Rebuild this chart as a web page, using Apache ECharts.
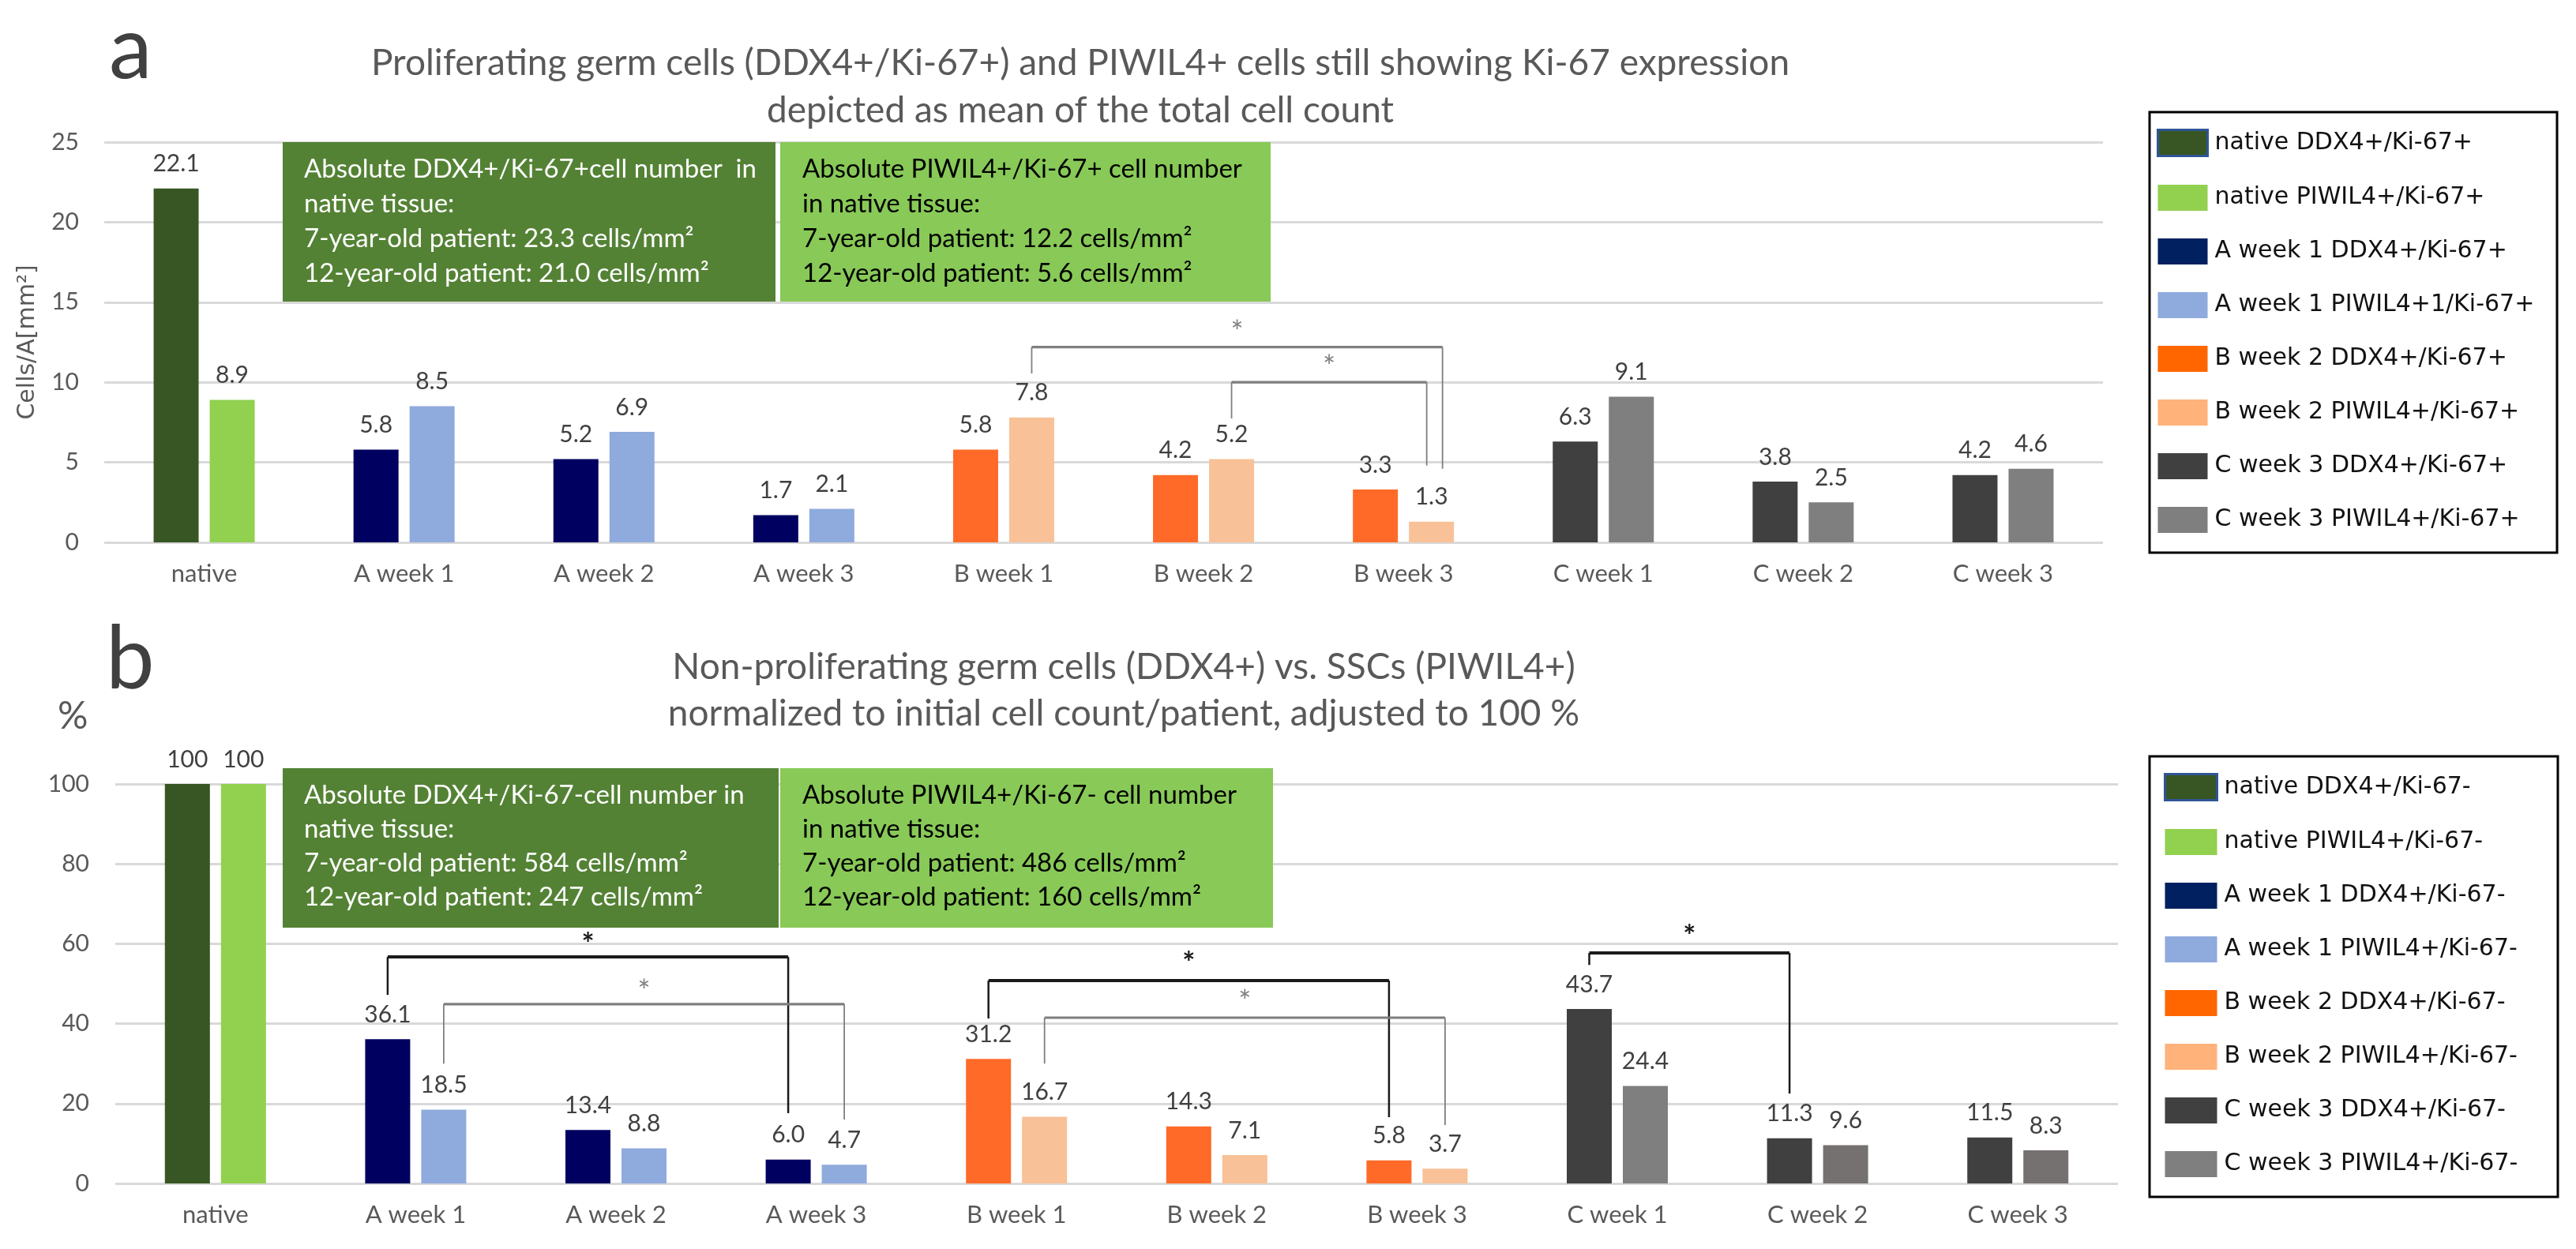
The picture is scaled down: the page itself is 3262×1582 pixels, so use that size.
<!DOCTYPE html>
<html>
<head>
<meta charset="utf-8">
<script src="https://cdn.jsdelivr.net/npm/echarts@6/dist/echarts.min.js"></script>
<style>
html,body{margin:0;padding:0;background:#fff;}
#main{width:3262px;height:1582px;}
</style>
</head>
<body>
<div id="main"></div>
<script>
// ---------------- DATA ----------------
const categories = ['native', 'A week 1', 'A week 2', 'A week 3', 'B week 1', 'B week 2', 'B week 3', 'C week 1', 'C week 2', 'C week 3'];
const groupOfCategory = [0, 1, 1, 1, 2, 2, 2, 3, 3, 3];

// panel a: proliferating cells (cells / mm²)
const prolifDDX4   = [22.1, 5.8, 5.2, 1.7, 5.8, 4.2, 3.3, 6.3, 3.8, 4.2];
const prolifPIWIL4 = [8.9, 8.5, 6.9, 2.1, 7.8, 5.2, 1.3, 9.1, 2.5, 4.6];
// panel b: non-proliferating cells (% of native)
const nonProlifDDX4   = [100, 36.1, 13.4, 6.0, 31.2, 14.3, 5.8, 43.7, 11.3, 11.5];
const nonProlifPIWIL4 = [100, 18.5, 8.8, 4.7, 16.7, 7.1, 3.7, 24.4, 9.6, 8.3];

const yTicksA = [0, 5, 10, 15, 20, 25];
const yTicksB = [0, 20, 40, 60, 80, 100];

const legendDDX4A  = ['native DDX4+/Ki-67+', 'A week 1 DDX4+/Ki-67+', 'B week 2 DDX4+/Ki-67+', 'C week 3 DDX4+/Ki-67+'];
const legendPIWILA = ['native PIWIL4+/Ki-67+', 'A week 1 PIWIL4+1/Ki-67+', 'B week 2 PIWIL4+/Ki-67+', 'C week 3 PIWIL4+/Ki-67+'];
const legendDDX4B  = ['native DDX4+/Ki-67-', 'A week 1 DDX4+/Ki-67-', 'B week 2 DDX4+/Ki-67-', 'C week 3 DDX4+/Ki-67-'];
const legendPIWILB = ['native PIWIL4+/Ki-67-', 'A week 1 PIWIL4+/Ki-67-', 'B week 2 PIWIL4+/Ki-67-', 'C week 3 PIWIL4+/Ki-67-'];

// significance brackets: category/bar (0 = DDX4, 1 = PIWIL4) and heights in data units
const bracketsA = [
  { from: 4, fromSide: 1, yFrom: 10.55, yTop: 12.2, to: 6, toSide: 1, yTo: 4.6, starY: 13.1, dark: 0, dxEnd: 14 },
  { from: 5, fromSide: 1, yFrom: 7.74, yTop: 10.0, to: 6, toSide: 1, yTo: 4.8, starY: 10.9, dark: 0, dxEnd: -6 }
];
const bracketsB = [
  { from: 1, fromSide: 0, yFrom: 47.2, yTop: 56.7, to: 3, toSide: 0, yTo: 17.6, starY: 59.7, dark: 1, dxEnd: 0 },
  { from: 1, fromSide: 1, yFrom: 30.0, yTop: 44.9, to: 3, toSide: 1, yTo: 16.0, starY: 47.8, dark: 0, dxEnd: 0 },
  { from: 4, fromSide: 0, yFrom: 41.3, yTop: 50.8, to: 6, toSide: 0, yTo: 16.6, starY: 54.9, dark: 1, dxEnd: 0 },
  { from: 4, fromSide: 1, yFrom: 30.0, yTop: 41.5, to: 6, toSide: 1, yTo: 14.6, starY: 45.3, dark: 0, dxEnd: 0 },
  { from: 7, fromSide: 0, yFrom: 54.7, yTop: 57.7, to: 8, toSide: 0, yTo: 22.5, starY: 61.7, dark: 1, dxEnd: 0 }
];

// ---------------- STYLE ----------------
const NARROW = "Lato, 'Open Sans', sans-serif";
const LEGEND_FONT = "'DejaVu Sans', Verdana, sans-serif";
const colorsDDX4  = ['#375623', '#000060', '#FF6A28', '#404040'];
const colorsPIWIL = ['#92D050', '#8FAADC', '#F8C197', '#7F7F7F'];
const legendDDX4Colors  = ['#375623', '#002060', '#FF6600', '#404040'];
const legendPIWILColors = ['#92D050', '#8FAADC', '#FFB27A', '#7F7F7F'];
const BAR_W = 57;
const BAR_GAP_PX = 14;
const HALF = (BAR_W + BAR_GAP_PX) / 2;

function fmt(v) { return v >= 100 ? String(v) : v.toFixed(1); }

function barSeries(values, names, colors, gridIdx, stack, specialColor) {
  return names.map((name, g) => ({
    name: name,
    type: 'bar',
    xAxisIndex: gridIdx,
    yAxisIndex: gridIdx,
    stack: stack,
    barWidth: BAR_W,
    barGap: (BAR_GAP_PX / BAR_W * 100) + '%',
    itemStyle: {
      color: (specialColor && g === 3) ? specialColor : colors[g]
    },
    label: {
      show: true,
      position: 'top',
      distance: 16,
      color: '#404040',
      fontFamily: NARROW,
      fontSize: 30,
      formatter: p => fmt(p.value)
    },
    data: values.map((v, i) => groupOfCategory[i] === g ? v : null)
  }));
}

function bracketSeries(gridIdx, list) {
  return {
    type: 'custom',
    xAxisIndex: gridIdx,
    yAxisIndex: gridIdx,
    silent: true,
    z: 10,
    clip: false,
    data: list.map(b => [b.from, b.yFrom, b.to, b.yTop, b.yTo, b.starY, b.fromSide, b.toSide, b.dxEnd, b.dark]),
    encode: { x: 0, y: 1 },
    renderItem: function (params, api) {
      const from = api.value(0), yFrom = api.value(1), to = api.value(2), yTop = api.value(3);
      const yTo = api.value(4), starY = api.value(5), fromSide = api.value(6), toSide = api.value(7);
      const dxEnd = api.value(8), dark = api.value(9);
      const xL = api.coord([from, 0])[0] + (fromSide ? HALF : -HALF);
      const xR = api.coord([to, 0])[0] + (toSide ? HALF : -HALF) + dxEnd;
      const pyFrom = api.coord([from, yFrom])[1];
      const pyTop = api.coord([from, yTop])[1];
      const pyTo = api.coord([to, yTo])[1];
      const pyStar = api.coord([from, starY])[1];
      const col = dark ? '#1a1a1a' : '#7F7F7F';
      const vw = dark ? 2.5 : 1.8;
      const hw = dark ? 4 : 3.2;
      return {
        type: 'group',
        children: [
          { type: 'line', shape: { x1: xL, y1: pyFrom, x2: xL, y2: pyTop }, style: { stroke: col, lineWidth: vw } },
          { type: 'line', shape: { x1: xL, y1: pyTop, x2: xR, y2: pyTop }, style: { stroke: col, lineWidth: hw } },
          { type: 'line', shape: { x1: xR, y1: pyTop, x2: xR, y2: pyTo }, style: { stroke: col, lineWidth: vw } },
          { type: 'text', style: { text: '*', x: (xL + xR) / 2, y: pyStar, align: 'center', verticalAlign: 'middle',
              fill: col, fontSize: 38, fontWeight: dark ? 'bold' : 'normal', fontFamily: NARROW } }
        ]
      };
    }
  };
}

function legendData(ddxNames, piwilNames, ddxColors, piwilColors) {
  const out = [];
  for (let g = 0; g < 4; g++) {
    out.push({ name: ddxNames[g], itemStyle: g === 0 ? { color: ddxColors[g], borderColor: '#2F5597', borderWidth: 3 } : { color: ddxColors[g] } });
    out.push({ name: piwilNames[g], itemStyle: { color: piwilColors[g] } });
  }
  return out;
}

const axisLabelCommon = { color: '#595959', fontFamily: NARROW };

const option = {
  backgroundColor: '#ffffff',
  animation: false,
  grid: [
    { left: 132, right: 599, top: 180, height: 507 },
    { left: 146, right: 580, top: 993, height: 506 }
  ],
  xAxis: [0, 1].map(i => ({
    type: 'category',
    gridIndex: i,
    data: categories,
    axisLine: { show: false },
    axisTick: { show: false },
    axisLabel: Object.assign({ fontSize: 31, margin: 24 }, axisLabelCommon)
  })),
  yAxis: [
    {
      type: 'value', gridIndex: 0,
      min: yTicksA[0], max: yTicksA[yTicksA.length - 1], interval: yTicksA[1] - yTicksA[0],
      name: 'Cells/A[mm²]', nameLocation: 'middle', nameGap: 82,
      nameTextStyle: { fontFamily: LEGEND_FONT, fontSize: 30, color: '#595959' },
      axisLine: { show: false }, axisTick: { show: false },
      axisLabel: Object.assign({ fontSize: 30, margin: 32 }, axisLabelCommon),
      splitLine: { lineStyle: { color: '#D9D9D9', width: 3 } }
    },
    {
      type: 'value', gridIndex: 1,
      min: yTicksB[0], max: yTicksB[yTicksB.length - 1], interval: yTicksB[1] - yTicksB[0],
      axisLine: { show: false }, axisTick: { show: false },
      axisLabel: Object.assign({ fontSize: 30, margin: 33 }, axisLabelCommon),
      splitLine: { lineStyle: { color: '#D9D9D9', width: 3 } }
    }
  ],
  legend: [
    {
      orient: 'vertical', left: 2731, top: 163, padding: 0,
      itemWidth: 63, itemHeight: 33, itemGap: 35, selectedMode: false,
      icon: 'rect',
      textStyle: { fontFamily: LEGEND_FONT, fontSize: 30, color: '#111', padding: [0, 0, 0, 4] },
      data: legendData(legendDDX4A, legendPIWILA, legendDDX4Colors, legendPIWILColors)
    },
    {
      orient: 'vertical', left: 2740, top: 979, padding: 0,
      itemWidth: 66, itemHeight: 33, itemGap: 35, selectedMode: false,
      icon: 'rect',
      textStyle: { fontFamily: LEGEND_FONT, fontSize: 30, color: '#111', padding: [0, 0, 0, 4] },
      data: legendData(legendDDX4B, legendPIWILB, legendDDX4Colors, legendPIWILColors)
    }
  ],
  series: [].concat(
    barSeries(prolifDDX4, legendDDX4A, colorsDDX4, 0, 'aD'),
    barSeries(prolifPIWIL4, legendPIWILA, colorsPIWIL, 0, 'aP'),
    barSeries(nonProlifDDX4, legendDDX4B, colorsDDX4, 1, 'bD'),
    barSeries(nonProlifPIWIL4, legendPIWILB, colorsPIWIL, 1, 'bP',
      function (p) { return p.dataIndex >= 8 ? '#767171' : '#7F7F7F'; }),
    [bracketSeries(0, bracketsA), bracketSeries(1, bracketsB)]
  ),
  graphic: [
    // panel letters
    { type: 'text', x: 138, y: 64, style: { text: 'a', fontSize: 110, fontFamily: NARROW, fill: '#404040', verticalAlign: 'middle' } },
    { type: 'text', x: 134, y: 836, style: { text: 'b', fontSize: 110, fontFamily: NARROW, fill: '#404040', verticalAlign: 'middle' } },
    { type: 'text', x: 73, y: 908, style: { text: '%', fontSize: 48, fontFamily: NARROW, fill: '#595959', verticalAlign: 'middle' } },
    // titles
    { type: 'text', x: 1368, y: 110, style: {
        text: 'Proliferating germ cells (DDX4+/Ki-67+) and PIWIL4+ cells still showing Ki-67 expression\ndepicted as mean of the total cell count',
        align: 'center', verticalAlign: 'middle', lineHeight: 60, fontSize: 46, fontFamily: NARROW, fill: '#595959' } },
    { type: 'text', x: 1423, y: 875, style: {
        text: 'Non-proliferating germ cells (DDX4+) vs. SSCs (PIWIL4+)\nnormalized to initial cell count/patient, adjusted to 100 %',
        align: 'center', verticalAlign: 'middle', lineHeight: 59, fontSize: 46, fontFamily: NARROW, fill: '#595959' } },
    // info boxes panel a
    { type: 'rect', shape: { x: 358, y: 180, width: 624, height: 202 }, style: { fill: '#548235' }, z: 20 },
    { type: 'rect', shape: { x: 988, y: 180, width: 621, height: 202 }, style: { fill: '#88C957' }, z: 20 },
    { type: 'text', x: 385, y: 192, z: 21, style: {
        text: 'Absolute DDX4+/Ki-67+cell number  in\nnative tissue:\n7-year-old patient: 23.3 cells/mm²\n12-year-old patient: 21.0 cells/mm²',
        verticalAlign: 'top', lineHeight: 44, fontSize: 33, fontFamily: NARROW, fill: '#ffffff' } },
    { type: 'text', x: 1016, y: 192, z: 21, style: {
        text: 'Absolute PIWIL4+/Ki-67+ cell number\nin native tissue:\n7-year-old patient: 12.2 cells/mm²\n12-year-old patient: 5.6 cells/mm²',
        verticalAlign: 'top', lineHeight: 44, fontSize: 33, fontFamily: NARROW, fill: '#000000' } },
    // info boxes panel b
    { type: 'rect', shape: { x: 358, y: 973, width: 628, height: 202 }, style: { fill: '#548235' }, z: 20 },
    { type: 'rect', shape: { x: 988, y: 973, width: 624, height: 202 }, style: { fill: '#88C957' }, z: 20 },
    { type: 'text', x: 385, y: 986, z: 21, style: {
        text: 'Absolute DDX4+/Ki-67-cell number in\nnative tissue:\n7-year-old patient: 584 cells/mm²\n12-year-old patient: 247 cells/mm²',
        verticalAlign: 'top', lineHeight: 43, fontSize: 33, fontFamily: NARROW, fill: '#ffffff' } },
    { type: 'text', x: 1016, y: 986, z: 21, style: {
        text: 'Absolute PIWIL4+/Ki-67- cell number\nin native tissue:\n7-year-old patient: 486 cells/mm²\n12-year-old patient: 160 cells/mm²',
        verticalAlign: 'top', lineHeight: 43, fontSize: 33, fontFamily: NARROW, fill: '#000000' } },
    // legend frames
    { type: 'rect', shape: { x: 2722, y: 142, width: 516, height: 558 }, style: { fill: 'none', stroke: '#000', lineWidth: 3 } },
    { type: 'rect', shape: { x: 2722, y: 958, width: 517, height: 558 }, style: { fill: 'none', stroke: '#000', lineWidth: 3 } }
  ]
};

const chart = echarts.init(document.getElementById('main'), null, { renderer: 'canvas' });
chart.setOption(option);
</script>
</body>
</html>
